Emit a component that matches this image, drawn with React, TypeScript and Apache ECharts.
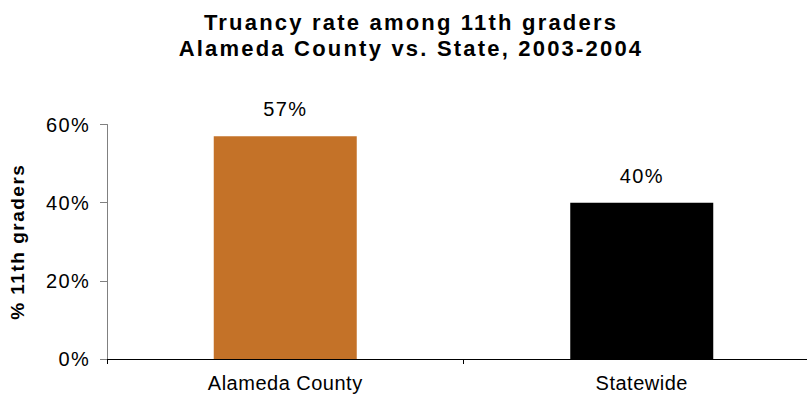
import React, { useEffect, useRef } from "react";
import * as echarts from "echarts";

const categories = ["Alameda County", "Statewide"];
const values = [57, 40];
const barColors = ["#C47228", "#000000"];
const titleLines = ["Truancy rate among 11th graders", "Alameda County vs. State, 2003-2004"];
const yAxisName = "% 11th graders";

const FONT = "'Liberation Sans', Arial, sans-serif";

export default function App() {
  const ref = useRef<HTMLDivElement>(null);
  useEffect(() => {
    const el = ref.current!;
    const chart = echarts.init(el, null, { renderer: "svg" });
    chart.setOption({
      animation: false,
      backgroundColor: "#ffffff",
      title: {
        text: titleLines.join("\n"),
        left: 411,
        top: 9,
        padding: 0,
        textAlign: "center",
        textStyle: {
          fontFamily: FONT,
          fontWeight: "bold",
          fontSize: 22,
          lineHeight: 26,
          color: "#000",
        },
      },
      grid: { left: 107, right: 0, top: 124.5, bottom: 45, containLabel: false },
      xAxis: {
        type: "category",
        data: categories,
        axisLine: { lineStyle: { color: "#000", width: 1 } },
        axisTick: { show: true, alignWithLabel: false, length: 5, lineStyle: { color: "#000" } },
        axisLabel: { margin: 14, fontFamily: FONT, fontSize: 20, color: "#000" },
        splitLine: { show: false },
      },
      yAxis: {
        type: "value",
        min: 0,
        max: 60,
        interval: 20,
        name: yAxisName,
        nameLocation: "middle",
        nameRotate: 90,
        nameGap: 80,
        nameTextStyle: { fontFamily: FONT, fontWeight: "bold", fontSize: 19, color: "#000" },
        axisLine: { show: true, lineStyle: { color: "#808080", width: 1 } },
        axisTick: { show: true, length: 7, lineStyle: { color: "#808080" } },
        axisLabel: { formatter: "{value}%", margin: 17, fontFamily: FONT, fontSize: 20, color: "#000" },
        splitLine: { show: false },
      },
      series: [
        {
          type: "bar",
          data: values.map((v, i) => ({ value: v, itemStyle: { color: barColors[i] } })),
          barWidth: 143,
          label: {
            show: true,
            position: "top",
            distance: 17,
            formatter: "{c}%",
            fontFamily: FONT,
            fontSize: 20,
            color: "#000",
          },
        },
      ],
    });
    const spacing = () => {
      el.querySelectorAll("text").forEach((t) => {
        const s = t.textContent || "";
        if (titleLines.includes(s)) t.setAttribute("letter-spacing", "2.2");
        else if (s === yAxisName) t.setAttribute("letter-spacing", "1.5");
        else if (categories.includes(s)) t.setAttribute("letter-spacing", "0.5");
        else t.setAttribute("letter-spacing", "1.3");
      });
    };
    spacing();
    chart.on("finished", spacing);
    const raf = requestAnimationFrame(spacing);
    return () => {
      cancelAnimationFrame(raf);
      chart.dispose();
    };
  }, []);
  return (
    <div style={{ position: "fixed", left: 0, top: 0, width: 807, height: 404, overflow: "hidden", background: "#fff" }}>
      <div ref={ref} style={{ width: 820, height: 404 }} />
    </div>
  );
}
